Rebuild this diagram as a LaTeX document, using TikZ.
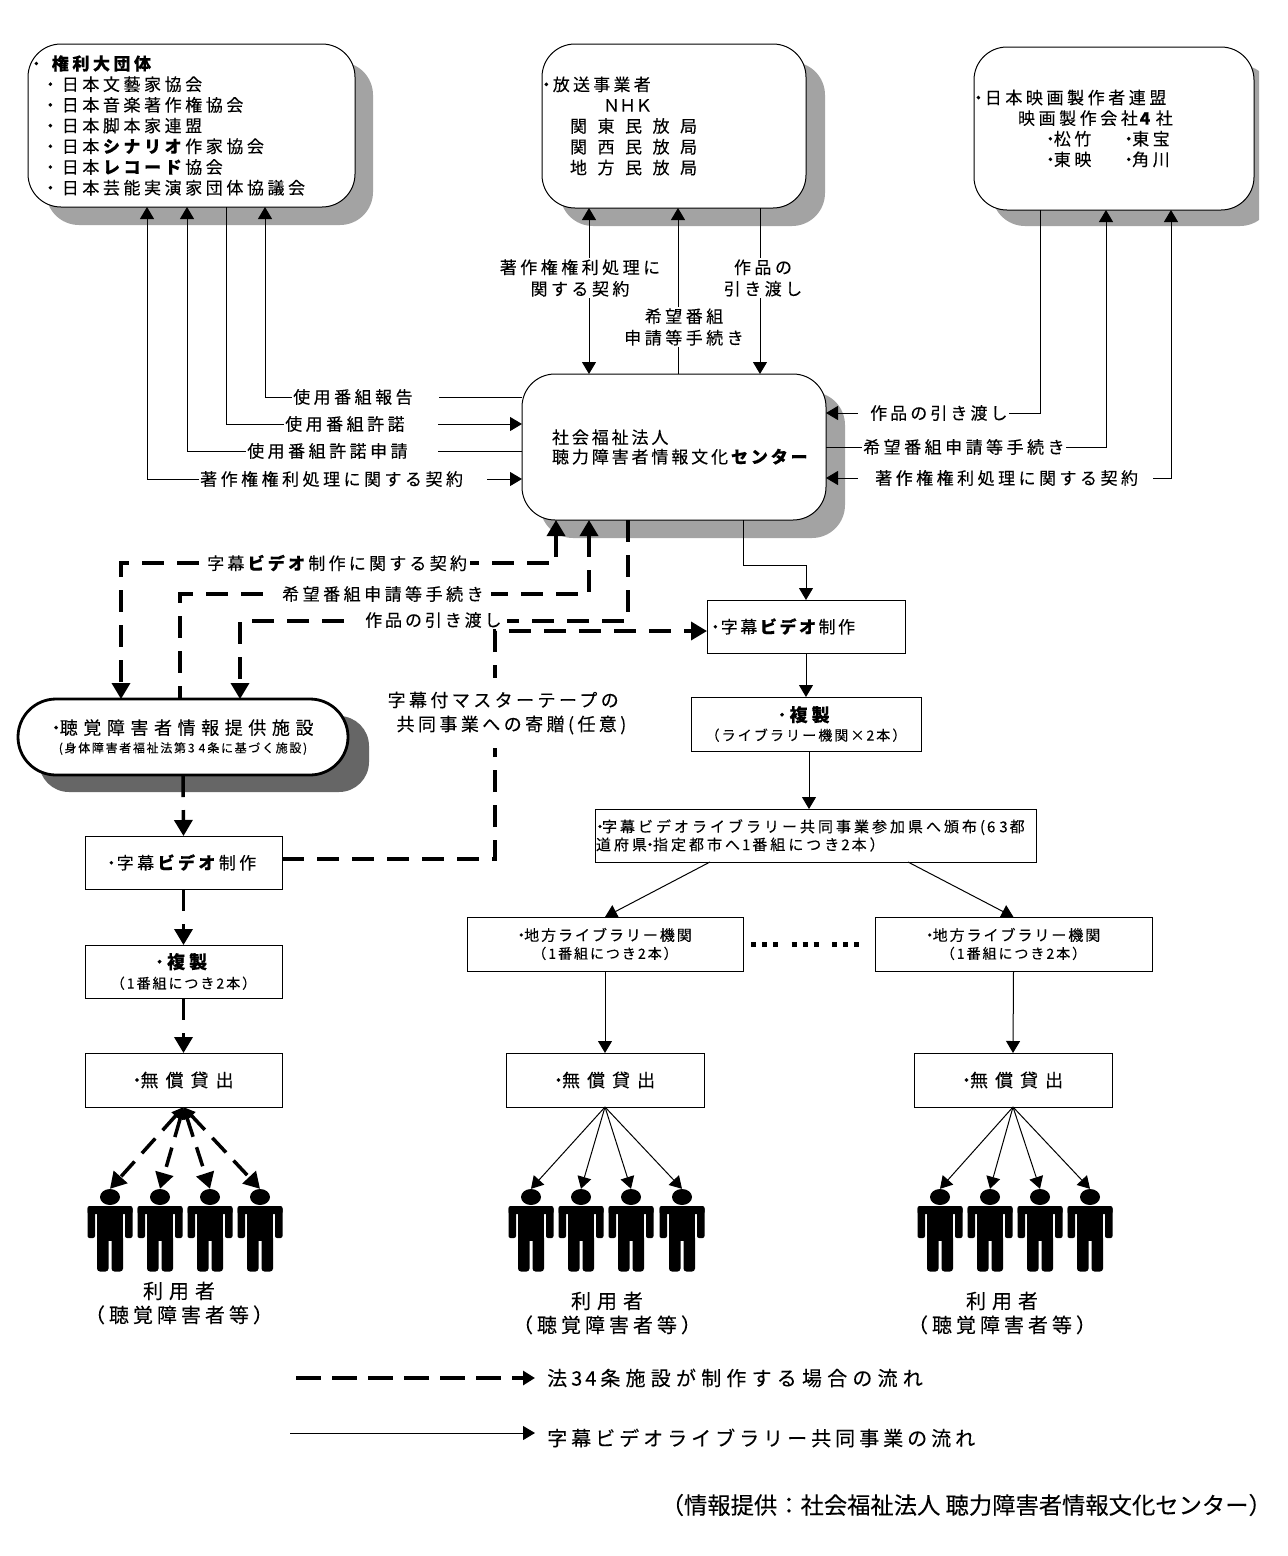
\documentclass[tikz,border=0pt]{standalone}
\usepackage{fontspec}
\usetikzlibrary{arrows.meta,shapes.geometric}
\newfontfamily\jp[FakeBold=0.12]{Noto Sans CJK JP}
\newcommand\jfont[3]{\jp\fontsize{#1}{#2}\selectfont\addfontfeature{LetterSpace=#3}}
\newcommand\dt{\hbox{\kern-0.3em ・\kern-0.3em}}
\newcommand\hs[1]{\hspace*{#1pt}}
\newcommand\gp[1]{\hbox to #1pt{}}
\newcommand\nm[1]{\kern2pt #1\kern2pt}
\tikzset{
  base/.style={draw=black,fill=white,line width=1pt,outer sep=0pt,inner sep=1pt},
  wh/.style 2 args={minimum width=#1pt,minimum height=#2pt},
  rbox/.style={base,rounded corners=33pt,align=left},
  sbox/.style={base,align=center,font=\jfont{15}{19}{25}},
  lbox/.style={base,align=left,font=\jfont{15}{18}{25}},
  lbl/.style={fill=white,inner sep=1pt,anchor=west,font=\jfont{17}{21}{20.5}},
  mlbl/.style={fill=white,inner sep=1pt,align=center,font=\jfont{17}{21.5}{20.5}},
  big/.style={inner sep=0pt,align=center,font=\jfont{20}{24}{20}},
  shade1/.style={fill=black!36},
  shade2/.style={fill=black!60},
  thn/.style={line width=1pt,>={Triangle[length=12pt,width=14pt]}},
  thk/.style={line width=3.5pt,dash pattern=on 22pt off 13pt,>={Triangle[length=16pt,width=18pt]}},
  headnode/.style={ellipse,fill=black,inner sep=0pt,minimum width=20pt,minimum height=16pt},
  person/.pic={
    \fill[black,rounded corners=2pt] (-22.5,9) rectangle (22.5,17);
    \fill[black,rounded corners=2pt] (-22.5,10) rectangle (-15,41);
    \fill[black,rounded corners=2pt] (15,10) rectangle (22.5,41);
    \fill[black] (-13,10) rectangle (13,44);
    \fill[black,rounded corners=3pt] (-13,38) rectangle (-1.5,74.5);
    \fill[black,rounded corners=3pt] (1.5,38) rectangle (13,74.5);
  }
}
\begin{document}
\begin{tikzpicture}[x=1pt,y=-1pt]
\useasboundingbox (0,0) rectangle (1288,1556);
\fill[white] (0,0) rectangle (1288,1556);
% shadows
\fill[shade1,rounded corners=33pt] (46,62) rectangle (373,225);
\fill[shade1,rounded corners=33pt] (560,62) rectangle (825,226);
\begin{scope}
\clip (980,50) rectangle (1259,230);
\fill[shade1,rounded corners=33pt] (992,65) rectangle (1273,226);
\end{scope}
\fill[shade1,rounded corners=33pt] (540,392) rectangle (845,538);
\fill[shade2,rounded corners=30pt] (39,716) rectangle (369,792);
% main boxes
\node[rbox,wh={327}{163},font=\jfont{17}{20.7}{21},inner xsep=1pt,text width=325pt] (k) at (191.5,125.5)
 {\hs{4}\dt\hs{12}\textbf{権利大団体}\\
  \hs{18}\dt\hs{8}日本文藝家協会\\
  \hs{18}\dt\hs{8}日本音楽著作権協会\\
  \hs{18}\dt\hs{8}日本脚本家連盟\\
  \hs{18}\dt\hs{8}日本\textbf{シナリオ}作家協会\\
  \hs{18}\dt\hs{8}日本\textbf{レコード}協会\\
  \hs{18}\dt\hs{8}日本芸能実演家団体協議会};
\node[rbox,wh={264}{164},font=\jfont{17}{20.8}{19},text width=262pt] (h) at (674,126)
 {\dt\hs{3}放送事業者\\
  \hs{60}{\addfontfeature{LetterSpace=-5}ＮＨＫ}\\
  \hs{27}{\addfontfeature{LetterSpace=62}関東民放局}\\
  \hs{27}{\addfontfeature{LetterSpace=62}関西民放局}\\
  \hs{27}{\addfontfeature{LetterSpace=62}地方民放局}};
\node[rbox,wh={280}{163},font=\jfont{17}{20.6}{21},text width=278pt] (e) at (1114,128.5)
 {\dt\hs{3}日本映画製作者連盟\\
  \hs{43}映画製作会社\nm{\textbf{4}}社\\
  \hs{72}\dt 松竹\hs{34}\dt 東宝\\
  \hs{72}\dt 東映\hs{34}\dt 角川};
\node[rbox,wh={304}{146},font=\jfont{17}{19.5}{17},text width=302pt] (cs) at (674,447)
 {\hs{29}社会福祉法人\\
  \hs{29}聴力障害者情報文化\textbf{センター}};
\node[base,rounded corners=38pt,line width=2.8pt,align=center,wh={330}{76},font=\jfont{18}{19}{31}] (ch) at (183,737)
 {\dt 聴覚障害者情報提供施設\\[-1pt]
  {\jfont{12}{14}{14}(身体障害者福祉法第\nm{3}\nm{4}条に基づく施設)}};
% right column boxes
\node[lbox,wh={198}{53},text width=196pt,font=\jfont{17}{20}{15}] (jm1) at (806,626.5) {\hs{4}\dt\hs{2}字幕\textbf{ビデオ}制作};
\node[sbox,wh={230}{54},font=\jfont{18}{19}{22}] (fk1) at (806,724)
 {\dt\hs{4}\textbf{複製}\\{\jfont{14}{15}{15}（ライブラリー機関×\nm{2}本）}};
\node[lbox,wh={441}{53},text width=439pt,font=\jfont{15}{18}{20}] (hp) at (815.5,835.5)
 {\hs{1}\dt\hs{-1}字幕ビデオライブラリー共同事業参加県へ頒布(\nm{6}\nm{3}都\\道府県\dt 指定都市へ\nm{1}番組につき\nm{2}本）};
\node[sbox,wh={276}{54},font=\jfont{15}{18}{13}] (c1) at (605,944)
 {\dt 地方ライブラリー機関\\{\jfont{14}{15}{14}（\nm{1}番組につき\nm{2}本）}};
\node[sbox,wh={277}{54},font=\jfont{15}{18}{13}] (c2) at (1013.5,944)
 {\dt 地方ライブラリー機関\\{\jfont{14}{15}{14}（\nm{1}番組につき\nm{2}本）}};
\node[sbox,wh={198}{54},font=\jfont{18}{20}{39}] (m2) at (605,1080) {\dt 無償貸出};
\node[sbox,wh={198}{54},font=\jfont{18}{20}{39}] (m3) at (1013,1080) {\dt 無償貸出};
% left column boxes
\node[lbox,wh={197}{53},text width=195pt,font=\jfont{17}{20}{20}] (j0) at (183.5,862.5) {\hs{22}\dt\hs{2}字幕\textbf{ビデオ}制作};
\node[sbox,wh={197}{53},font=\jfont{18}{20}{22}] (f0) at (183.5,971.5)
 {\dt\hs{4}\textbf{複製}\\{\jfont{14}{15}{14}（\nm{1}番組につき\nm{2}本）}};
\node[sbox,wh={197}{54},font=\jfont{18}{20}{39}] (m0) at (183.5,1080) {\dt 無償貸出};
% thin connectors, top left
\draw[thn,<->] (k.south -| 147,0) |- (cs.west |- 0,479);
\node[lbl] (l1) at (199,479) {著作権権利処理に関する契約\gp{23}};
\draw[thn,->] (cs.west |- 0,451) -| (k.south -| 187,0);
\node[lbl] (l2) at (246,451) {使用番組許諾申請\gp{29}};
\draw[thn,->] (k.south -| 226,0) |- (cs.west |- 0,424);
\node[lbl] (l3) at (284,424) {使用番組許諾\gp{32}};
\draw[thn,->] (cs.west |- 0,397) -| (k.south -| 265,0);
\node[lbl] (l4) at (292,397) {使用番組報告\gp{25}};
% thin connectors, top middle
\draw[thn,<->] (h.south -| 589,0) -- (cs.north -| 589,0);
\node[mlbl] (l5) at (580,278) {著作権権利処理に\\関する契約};
\draw[thn,->] (cs.north -| 678,0) -- (h.south -| 678,0);
\node[mlbl] (l6) at (684,327) {希望番組\\申請等手続き};
\draw[thn,->] (h.south -| 760,0) -- (cs.north -| 760,0);
\node[mlbl] (l7) at (763,278) {作品の\\引き渡し};
% thin connectors, top right
\draw[thn,->] (e.south -| 1040,0) |- (cs.east |- 0,413);
\node[lbl,font=\jfont{17}{21}{18}] (l8) at (858,413) {\hs{11}作品の引き渡し};
\draw[thn,->] (cs.east |- 0,447) -| (e.south -| 1106,0);
\node[lbl] (l9) at (862,447) {希望番組申請等手続き};
\draw[thn,<->] (e.south -| 1171,0) |- (cs.east |- 0,478);
\node[lbl] (l10) at (858,478) {\hs{16}著作権権利処理に関する契約\gp{14}};
% thin connectors, right column
\draw[thn,->] (cs.south -| 743,0) -- (743,565) -- (806,565) -- (jm1.north);
\draw[thn,->] (jm1.south) -- (fk1.north);
\draw[thn,->] (fk1.south -| 809,0) -- (hp.north -| 809,0);
\draw[thn,->] (hp.south -| 710,0) -- (c1.north);
\draw[thn,->] (hp.south -| 908,0) -- (c2.north);
\draw[thn,->] (c1.south) -- (m2.north);
\draw[thn,->] (c2.south) -- (m3.north);
\draw[line width=5pt,dash pattern=on 5pt off 6pt on 5pt off 6pt on 5pt off 13.5pt] ([xshift=8pt]c1.east) -- ([xshift=-11pt]c2.west);
% thick dashed connectors
\draw[thk,<->] (cs.south -| 556,0) -- (556,563) -- (121,563) -- (ch.north -| 121,0);
\node[lbl,font=\jfont{17}{21}{19}] (l11) at (206,563) {字幕\textbf{ビデオ}制作に関する契約\gp{2}};
\draw[thk,<-] (cs.south -| 589,0) -- (589,594) -- (180,594) -- (ch.north -| 180,0);
\node[lbl] (l12) at (272,594) {\hs{9}希望番組申請等手続き\gp{6}};
\draw[thk,->] (cs.south -| 628,0) -- (628,621) -- (240,621) -- (ch.north -| 240,0);
\node[lbl,inner ysep=0pt,font=\jfont{17}{21}{17}] (l13) at (355,620) {\hs{9}作品の引き渡し\gp{4}};
\draw[thk,->] (j0.east |- 0,859) -- (495,859) -- (495,631) -- (jm1.west |- 0,631);
\node[mlbl,align=left,font=\jfont{18}{24}{19},inner ysep=14pt] (l14) at (507,713) {字幕付マスターテープの\\\hs{9}共同事業への寄贈(任意)};
\draw[thk,->] (ch.south) -- (j0.north);
\draw[thk,->] (j0.south) -- (f0.north);
\draw[thk,->] (f0.south) -- (m0.north);
% people
\foreach \n/\x in {a1/110,a2/160,a3/210,a4/260,b1/531,b2/581,b3/631,b4/682,c1h/940,c2h/990,c3h/1040,c4h/1090}{
  \node[headnode] (\n) at (\x,1197) {};
  \pic at (\n) {person};
}
\foreach \n in {a1,a2,a3,a4}{
  \draw[line width=3.5pt,dash pattern=on 20pt off 11pt,{Triangle[length=12pt,width=10pt]}-{Triangle[length=16pt,width=18pt]}] (m0.south) -- (\n.north);
}
\foreach \n in {b1,b2,b3,b4}{
  \draw[thn,->] (m2.south) -- (\n.north);
}
\foreach \n in {c1h,c2h,c3h,c4h}{
  \draw[thn,->] (m3.south) -- (\n.north);
}
\node[big] (u1) at (179,1303) {{\addfontfeature{LetterSpace=30}利用者}\\（聴覚障害者等）};
\node[big] (u2) at (607,1313) {{\addfontfeature{LetterSpace=30}利用者}\\（聴覚障害者等）};
\node[big] (u3) at (1002,1313) {{\addfontfeature{LetterSpace=30}利用者}\\（聴覚障害者等）};
% legend
\node[big,anchor=west,font=\jfont{20}{24}{26}] (t1) at (547,1378) {法\kern4pt 3\kern3pt 4\kern4pt 条施設が制作する場合の流れ};
\node[big,anchor=west] (t2) at (547,1438) {字幕ビデオライブラリー共同事業の流れ};
\coordinate (q1) at (296,1378);
\coordinate (q2) at (535,1378);
\coordinate (q3) at (290,1433);
\coordinate (q4) at (535,1433);
\draw[line width=4pt,dash pattern=on 25pt off 11pt,>={Triangle[length=12pt,width=14pt]},->] (q1) -- (q2);
\draw[thn,->] (q3) -- (q4);
\node[anchor=east,inner sep=0pt,font=\jp\fontsize{23.3}{26}\selectfont] (src) at (1272,1505) {（情報提供：社会福祉法人 聴力障害者情報文化センター）};
\end{tikzpicture}
\end{document}
